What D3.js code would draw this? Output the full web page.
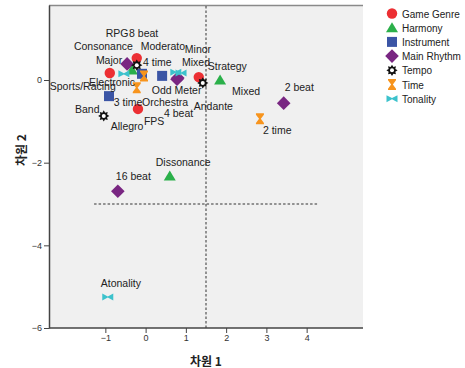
<!DOCTYPE html>
<html>
<head>
<meta charset="utf-8">
<script src="https://cdn.jsdelivr.net/npm/d3@7"></script>
<style>
  html, body { margin: 0; padding: 0; background: #ffffff; }
  svg { display: block; font-family: "Liberation Sans", Arial, sans-serif; }
</style>
</head>
<body>
<svg id="chart" width="465" height="368"></svg>
<script>
// Category quantifications on dimensions 1 and 2
const gameGenre = [
  { label: "RPG",           d1: -0.22, d2:  0.53 },
  { label: "Sports/Racing", d1: -0.89, d2:  0.17 },
  { label: "FPS",           d1: -0.19, d2: -0.70 },
  { label: "Strategy",      d1:  1.32, d2:  0.07 }
];
const harmony = [
  { label: "Consonance", d1: -0.34, d2:  0.24 },
  { label: "Dissonance", d1:  0.60, d2: -2.32 },
  { label: "Mixed",      d1:  1.85, d2:  0.00 }
];
const instrument = [
  { label: "Electronic", d1: -0.09, d2:  0.15 },
  { label: "Orchestra",  d1:  0.41, d2:  0.10 },
  { label: "Band",       d1: -0.91, d2: -0.39 }
];
const mainRhythm = [
  { label: "8 beat",    d1: -0.46, d2:  0.39 },
  { label: "4 beat",    d1:  0.78, d2:  0.02 },
  { label: "Odd Meter", d1:  0.80, d2:  0.05 },
  { label: "2 beat",    d1:  3.43, d2: -0.56 },
  { label: "16 beat",   d1: -0.69, d2: -2.69 }
];
const tempo = [
  { label: "Moderato", d1: -0.22, d2:  0.36 },
  { label: "Allegro",  d1: -1.04, d2: -0.87 },
  { label: "Andante",  d1:  1.42, d2: -0.07 }
];
const time = [
  { label: "4 time", d1: -0.04, d2:  0.10 },
  { label: "3 time", d1: -0.22, d2: -0.19 },
  { label: "2 time", d1:  2.84, d2: -0.94 }
];
const tonality = [
  { label: "Major",     d1: -0.54, d2:  0.15 },
  { label: "Minor",     d1:  0.75, d2:  0.19 },
  { label: "Mixed",     d1:  0.88, d2:  0.17 },
  { label: "Atonality", d1: -0.94, d2: -5.25 }
];

const groupNames = ["Game Genre", "Harmony", "Instrument", "Main Rhythm", "Tempo", "Time", "Tonality"];
const groupData = [gameGenre, harmony, instrument, mainRhythm, tempo, time, tonality];

const xTicks = [-1, 0, 1, 2, 3, 4];
const yTicks = [0, -2, -4, -6];

// Reference lines
const refVertical = 1.5;
const refHorizontal = -3.0;
const refHorizontalExtent = [-1.28, 4.3];

// ---- layout & styling ----
const svg = d3.select("#chart");
const plot = { left: 49, right: 363, top: 5, bottom: 328 };

const x = d3.scaleLinear().domain([-2.40, 5.40]).range([plot.left, plot.right]);
const y = d3.scaleLinear().domain([-6, 1.815]).range([plot.bottom, plot.top]);

const colors = {
  "Game Genre": "#ec2f33",
  "Harmony": "#2bb04a",
  "Instrument": "#3b55a5",
  "Main Rhythm": "#792682",
  "Tempo": "#111111",
  "Time": "#f7941d",
  "Tonality": "#3cc2cc"
};

// Marker shapes
const shapes = {
  "Game Genre": () => d3.symbol(d3.symbolCircle, Math.PI * 5.2 * 5.2)(),
  "Harmony": () => "M0,-5.5L6,4.5L-6,4.5Z",
  "Instrument": () => "M-5,-5H5V5H-5Z",
  "Main Rhythm": () => "M0,-6.8L6.8,0L0,6.8L-6.8,0Z",
  "Tempo": () => {
    const pts = [];
    for (let i = 0; i < 16; i++) {
      const r = i % 2 === 0 ? 5.6 : 3.6;
      const a = i * Math.PI / 8 - Math.PI / 2;
      pts.push([r * Math.cos(a), r * Math.sin(a)]);
    }
    return "M" + pts.map(p => p.join(",")).join("L") + "Z";
  },
  "Time": () => "M-4,-5.5H4V-4.2L0.9,0L4,4.2V5.5H-4V4.2L-0.9,0L-4,-4.2Z",
  "Tonality": () => "M-5.5,-3.5L0,-0.6L5.5,-3.5V3.5L0,0.6L-5.5,3.5Z"
};

function drawMarker(g, group) {
  g.append("path")
    .attr("d", shapes[group]())
    .attr("fill", colors[group]);
  if (group === "Tempo") {
    g.append("circle").attr("r", 2).attr("fill", "#ffffff");
  }
}

// Label offsets (pixels from the marker centre to the text start / baseline)
const labelOffsets = {
  "Game Genre|RPG": [-31, -21],
  "Game Genre|Sports/Racing": [-60, 17],
  "Game Genre|FPS": [6, 16],
  "Game Genre|Strategy": [9, -7],
  "Harmony|Consonance": [-58, -20],
  "Harmony|Dissonance": [-14, -10],
  "Harmony|Mixed": [12, 15],
  "Instrument|Electronic": [-53, 12],
  "Instrument|Orchestra": [-20, 30],
  "Instrument|Band": [-34, 17],
  "Main Rhythm|8 beat": [2, -27],
  "Main Rhythm|4 beat": [-13, 38],
  "Main Rhythm|Odd Meter": [-26, 16],
  "Main Rhythm|2 beat": [1, -12],
  "Main Rhythm|16 beat": [-2, -11],
  "Tempo|Moderato": [4, -15],
  "Tempo|Allegro": [7, 14],
  "Tempo|Andante": [-9, 27],
  "Time|4 time": [-1, -10],
  "Time|3 time": [-23, 18],
  "Time|2 time": [3, 15],
  "Tonality|Major": [-28, -10],
  "Tonality|Minor": [9, -19],
  "Tonality|Mixed": [1, -7],
  "Tonality|Atonality": [-7, -10]
};

// Plot background and frame
svg.append("rect")
  .attr("x", plot.left).attr("y", plot.top)
  .attr("width", plot.right - plot.left).attr("height", plot.bottom - plot.top)
  .attr("fill", "#f0f0f0");
svg.append("line")
  .attr("x1", plot.left).attr("x2", plot.right)
  .attr("y1", plot.top + 0.5).attr("y2", plot.top + 0.5)
  .attr("stroke", "#8a8a8a").attr("stroke-width", 1.5);

// Reference lines
svg.append("line")
  .attr("x1", x(refVertical)).attr("x2", x(refVertical))
  .attr("y1", plot.top + 1).attr("y2", plot.bottom)
  .attr("stroke", "#333").attr("stroke-width", 1).attr("stroke-dasharray", "2.5,2");
svg.append("line")
  .attr("x1", x(refHorizontalExtent[0])).attr("x2", x(refHorizontalExtent[1]))
  .attr("y1", y(refHorizontal)).attr("y2", y(refHorizontal))
  .attr("stroke", "#333").attr("stroke-width", 1).attr("stroke-dasharray", "2.5,2");

// Axes
const xAxis = svg.append("g")
  .attr("transform", `translate(0,${plot.bottom})`)
  .call(d3.axisBottom(x).tickValues(xTicks).tickSize(5).tickPadding(2).tickSizeOuter(0));
const yAxis = svg.append("g")
  .attr("transform", `translate(${plot.left},0)`)
  .call(d3.axisLeft(y).tickValues(yTicks).tickSize(5).tickPadding(2).tickSizeOuter(0));

[xAxis, yAxis].forEach(ax => {
  ax.select(".domain").attr("stroke", "#444").attr("stroke-width", 1.5);
  ax.selectAll(".tick line").attr("stroke", "#444");
  ax.selectAll(".tick text").attr("fill", "#333").style("font-size", "9px")
    .style("font-family", "'Liberation Sans', Arial, sans-serif");
});
xAxis.select(".domain").attr("d", `M${plot.left},0H${plot.right}`);

// Axis titles
svg.append("text")
  .attr("x", (plot.left + plot.right) / 2).attr("y", 366)
  .attr("text-anchor", "middle")
  .style("font-size", "12px").style("font-weight", "bold").attr("fill", "#222")
  .style("font-family", "'Noto Sans CJK KR', sans-serif")
  .text("차원 1");
svg.append("text")
  .attr("transform", "translate(26,150) rotate(-90)")
  .attr("text-anchor", "middle")
  .style("font-size", "12px").style("font-weight", "bold").attr("fill", "#222")
  .style("font-family", "'Noto Sans CJK KR', sans-serif")
  .text("차원 2");

// Points
const pointLayer = svg.append("g");
groupNames.forEach((group, gi) => {
  groupData[gi].forEach(d => {
    const g = pointLayer.append("g")
      .attr("transform", `translate(${x(d.d1)},${y(d.d2)})`);
    drawMarker(g, group);
  });
});

// Point labels
const labelLayer = svg.append("g");
groupNames.forEach((group, gi) => {
  groupData[gi].forEach(d => {
    const off = labelOffsets[group + "|" + d.label] || [4, -6];
    labelLayer.append("text")
      .attr("x", x(d.d1) + off[0]).attr("y", y(d.d2) + off[1])
      .style("font-size", "10.5px").attr("fill", "#222")
      .text(d.label);
  });
});

// Legend
const legend = svg.append("g").attr("transform", "translate(392,13.5)");
groupNames.forEach((group, i) => {
  const row = legend.append("g").attr("transform", `translate(0,${i * 14.2})`);
  drawMarker(row, group);
  row.append("text")
    .attr("x", 10).attr("y", 4)
    .style("font-size", "10px").attr("fill", "#222")
    .text(group);
});
</script>
</body>
</html>
